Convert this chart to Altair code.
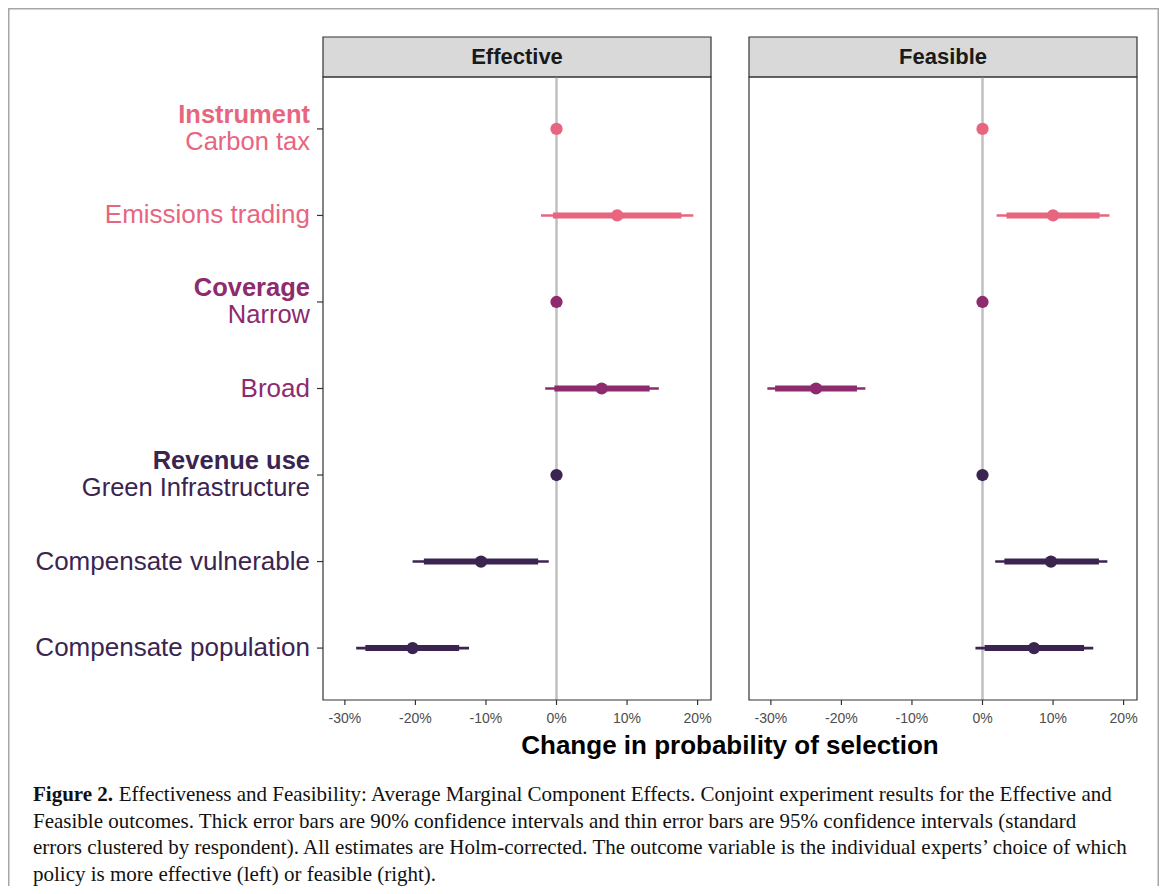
import altair as alt
import pandas as pd

# ---------------- data ----------------
levels = ["Carbon tax", "Emissions trading", "Narrow", "Broad",
          "Green Infrastructure", "Compensate vulnerable", "Compensate population"]
groups = ["Instrument", "Instrument", "Coverage", "Coverage",
          "Revenue use", "Revenue use", "Revenue use"]
first_in_group = [True, False, True, False, True, False, False]

group_names = ["Instrument", "Coverage", "Revenue use"]
group_colors = ["#E8657F", "#8E2A6E", "#3B2550"]

# Effective outcome (percentage points)
eff_est = [0.0, 8.6, 0.0, 6.4, 0.0, -10.7, -20.4]
eff_lo95 = [0.0, -2.2, 0.0, -1.6, 0.0, -20.4, -28.4]
eff_hi95 = [0.0, 19.4, 0.0, 14.5, 0.0, -1.1, -12.4]
eff_lo90 = [0.0, -0.5, 0.0, -0.3, 0.0, -18.8, -27.1]
eff_hi90 = [0.0, 17.7, 0.0, 13.2, 0.0, -2.6, -13.8]

# Feasible outcome (percentage points)
fea_est = [0.0, 10.0, 0.0, -23.6, 0.0, 9.7, 7.3]
fea_lo95 = [0.0, 2.0, 0.0, -30.5, 0.0, 1.8, -1.0]
fea_hi95 = [0.0, 18.0, 0.0, -16.6, 0.0, 17.7, 15.7]
fea_lo90 = [0.0, 3.4, 0.0, -29.4, 0.0, 3.1, 0.3]
fea_hi90 = [0.0, 16.6, 0.0, -17.8, 0.0, 16.5, 14.4]

tick_values = [-30, -20, -10, 0, 10, 20]
tick_labels = ["-30%", "-20%", "-10%", "0%", "10%", "20%"]

panel_titles = ["Effective", "Feasible"]
x_title = "Change in probability of selection"

caption_bold = "Figure 2."
caption_line1 = ("Effectiveness and Feasibility: Average Marginal Component Effects. "
                 "Conjoint experiment results for the Effective and")
caption_rest = [
    "Feasible outcomes. Thick error bars are 90% confidence intervals and thin error bars are 95% confidence intervals (standard",
    "errors clustered by respondent). All estimates are Holm-corrected. The outcome variable is the individual experts\u2019 choice of which",
    "policy is more effective (left) or feasible (right).",
]

# ---------------- layout constants ----------------
W, H = 1151, 878
TOP, BOTTOM = 69, 692
PANELS = [(315, 703), (741, 1129)]
X_DOMAIN = [-33.1, 21.9]
SANS = "Liberation Sans"
SERIF = "Liberation Serif"

rows = list(range(len(levels)))


def make_df(est, lo95, hi95, lo90, hi90):
    return pd.DataFrame({"row": rows, "level": levels, "group": groups,
                         "est": est, "lo95": lo95, "hi95": hi95,
                         "lo90": lo90, "hi90": hi90})


dfs = [make_df(eff_est, eff_lo95, eff_hi95, eff_lo90, eff_hi90),
       make_df(fea_est, fea_lo95, fea_hi95, fea_lo90, fea_hi90)]

one = pd.DataFrame({"k": [0]})
ticks_df = pd.DataFrame({"v": tick_values, "lab": tick_labels})
labels_df = pd.DataFrame({"row": rows, "level": levels, "group": groups,
                          "first": first_in_group})

y_scale = alt.Scale(domain=[-0.6, len(levels) - 0.4], range=[TOP, BOTTOM],
                    nice=False, zero=False)
color_enc = alt.Color("group:N", scale=alt.Scale(domain=group_names, range=group_colors),
                      legend=None)
Y = alt.Y("row:Q", scale=y_scale, axis=None)

layers = []

# outer border of the figure
layers.append(alt.Chart(one).mark_rect(fillOpacity=0, stroke="#a6a6a6", strokeWidth=1.5).encode(
    x=alt.value(0.75), x2=alt.value(W - 0.75), y=alt.value(0.75), y2=alt.value(H + 20)))

for (x0, x1), df, ptitle in zip(PANELS, dfs, panel_titles):
    xs = alt.Scale(domain=X_DOMAIN, range=[x0, x1], nice=False, zero=False)
    mid = (x0 + x1) / 2
    # strip
    layers.append(alt.Chart(one).mark_rect(fill="#d9d9d9", stroke="#333333", strokeWidth=1.2).encode(
        x=alt.value(x0), x2=alt.value(x1), y=alt.value(TOP - 40), y2=alt.value(TOP)))
    layers.append(alt.Chart(one).mark_text(text=ptitle, font=SANS, fontSize=22, fontWeight="bold",
                                           color="#1a1a1a", baseline="middle", align="center").encode(
        x=alt.value(mid), y=alt.value(TOP - 20)))
    # zero reference line
    layers.append(alt.Chart(pd.DataFrame({"v": [0]})).mark_rule(color="#c0c0c0", strokeWidth=2.5).encode(
        x=alt.X("v:Q", scale=xs, axis=None), y=alt.value(TOP), y2=alt.value(BOTTOM)))
    # 95% CI (thin)
    layers.append(alt.Chart(df).mark_rule(strokeWidth=2.6).encode(
        x=alt.X("lo95:Q", scale=xs, axis=None), x2="hi95:Q", y=Y, color=color_enc))
    # 90% CI (thick)
    layers.append(alt.Chart(df).mark_rule(strokeWidth=6).encode(
        x=alt.X("lo90:Q", scale=xs, axis=None), x2="hi90:Q", y=Y, color=color_enc))
    # point estimate
    layers.append(alt.Chart(df).mark_circle(size=150, opacity=1).encode(
        x=alt.X("est:Q", scale=xs, axis=None), y=Y, color=color_enc))
    # panel border
    layers.append(alt.Chart(one).mark_rect(fillOpacity=0, stroke="#333333", strokeWidth=1.2).encode(
        x=alt.value(x0), x2=alt.value(x1), y=alt.value(TOP), y2=alt.value(BOTTOM)))
    # x ticks and labels
    layers.append(alt.Chart(ticks_df).mark_rule(color="#333333", strokeWidth=1.2).encode(
        x=alt.X("v:Q", scale=xs, axis=None), y=alt.value(BOTTOM), y2=alt.value(BOTTOM + 5)))
    layers.append(alt.Chart(ticks_df).mark_text(font=SANS, fontSize=14, color="#4d4d4d",
                                                baseline="middle", align="center").encode(
        x=alt.X("v:Q", scale=xs, axis=None), y=alt.value(BOTTOM + 19), text="lab:N"))

# y-axis ticks on the left panel
layers.append(alt.Chart(labels_df).mark_rule(color="#333333", strokeWidth=1.2).encode(
    y=Y, x=alt.value(PANELS[0][0] - 6), x2=alt.value(PANELS[0][0])))

# y labels
LX = PANELS[0][0] - 13
layers.append(alt.Chart(labels_df).transform_filter("!datum.first").mark_text(
    font=SANS, fontSize=26, align="right", baseline="middle").encode(
    y=Y, x=alt.value(LX), text="level:N", color=color_enc))
layers.append(alt.Chart(labels_df).transform_filter("datum.first").mark_text(
    font=SANS, fontSize=25.5, align="right", baseline="middle", dy=13).encode(
    y=Y, x=alt.value(LX), text="level:N", color=color_enc))
layers.append(alt.Chart(labels_df).transform_filter("datum.first").mark_text(
    font=SANS, fontSize=25.5, fontWeight="bold", align="right", baseline="middle", dy=-14).encode(
    y=Y, x=alt.value(LX), text="group:N", color=color_enc))

# x title
layers.append(alt.Chart(one).mark_text(text=x_title, font=SANS, fontSize=26, fontWeight="bold",
                                       color="#000000", align="center", baseline="middle").encode(
    x=alt.value((PANELS[0][0] + PANELS[1][1]) / 2), y=alt.value(BOTTOM + 46)))

# caption
CAP_X, CAP_Y, CAP_FS, CAP_LH = 25, 793, 21, 26.5
layers.append(alt.Chart(one).mark_text(text=caption_bold, font=SERIF, fontSize=CAP_FS, fontWeight="bold",
                                       color="#111111", align="left", baseline="alphabetic").encode(
    x=alt.value(CAP_X), y=alt.value(CAP_Y)))
layers.append(alt.Chart(one).mark_text(text=caption_line1, font=SERIF, fontSize=CAP_FS,
                                       color="#111111", align="left", baseline="alphabetic").encode(
    x=alt.value(CAP_X + 4.083 * CAP_FS), y=alt.value(CAP_Y)))
layers.append(alt.Chart(one).mark_text(text=caption_rest, font=SERIF, fontSize=CAP_FS, lineHeight=CAP_LH,
                                       color="#111111", align="left", baseline="alphabetic").encode(
    x=alt.value(CAP_X), y=alt.value(CAP_Y + CAP_LH)))

chart = alt.layer(*layers).resolve_scale(x="independent").properties(
    width=W, height=H, padding=0, autosize=alt.AutoSizeParams(type="none"),
    background="white"
).configure_view(stroke=None)

chart.save("out.html", embed_options={"renderer": "svg", "actions": False})
